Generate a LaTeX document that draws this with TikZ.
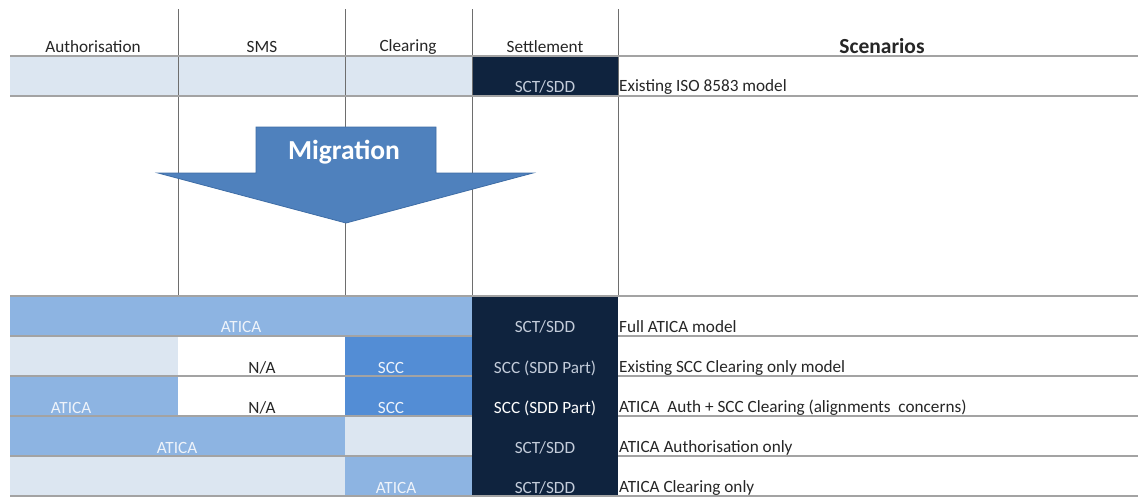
\documentclass[tikz,border=0pt]{standalone}
\usepackage{fontspec}
\setmainfont{Carlito}
\definecolor{paleblue}{HTML}{DCE6F1}
\definecolor{aticablue}{HTML}{8DB4E2}
\definecolor{sccblue}{HTML}{538DD5}
\definecolor{navy}{HTML}{0F233E}
\definecolor{arrowblue}{HTML}{4F81BD}
\definecolor{arrowedge}{HTML}{3E6DA6}
\definecolor{rulegray}{HTML}{A3A3A3}
\definecolor{gridgray}{HTML}{6E6E6E}
\definecolor{navytext}{HTML}{C3CCDA}
\definecolor{lighttext}{HTML}{EEF3FA}
\definecolor{bodytext}{HTML}{262626}
\tikzset{
  cell/.style={inner sep=0pt, anchor=center, font=\fontsize{17.2}{19}\selectfont},
  headtext/.style={cell, text=bodytext},
  darktext/.style={cell, text=navytext},
  whitetext/.style={cell, text=lighttext},
  plaintext/.style={cell, text=bodytext},
  scenario/.style={cell, anchor=west, text=bodytext},
  rowrule/.style={draw=rulegray, line width=1.8pt},
  colrule/.style={draw=gridgray, line width=0.9pt},
  migarrow/.style={fill=arrowblue, draw=arrowedge, line width=0.8pt, line join=miter}
}
\begin{document}
\begin{tikzpicture}[x=1pt,y=-1pt]
\useasboundingbox (0,0) rectangle (1138,498);
\fill[white] (0,0) rectangle (1138,498);

% existing model row
\fill[paleblue] (10,56) rectangle (472,96);
\fill[navy] (472,56) rectangle (618,96);

% target scenarios
\fill[aticablue] (10,296) rectangle (472,336);
\fill[paleblue] (10,336) rectangle (178,376);
\fill[sccblue] (345,336) rectangle (472,376);
\fill[aticablue] (10,376) rectangle (178,416);
\fill[sccblue] (345,376) rectangle (472,416);
\fill[aticablue] (10,416) rectangle (345,456);
\fill[paleblue] (345,416) rectangle (472,456);
\fill[paleblue] (10,456) rectangle (345,496);
\fill[aticablue] (345,456) rectangle (472,496);
\fill[navy] (472,296) rectangle (618,496);

% column rules
\foreach \cx in {178,345,472,618}
  \draw[colrule] (\cx,9) -- (\cx,296);

% row rules
\foreach \ry in {56,96,296}
  \draw[rowrule] (10,\ry) -- (1138,\ry);
\foreach \ry in {336,376,416,456}{
  \draw[rowrule] (10,\ry) -- (472,\ry);
  \draw[rowrule] (618,\ry) -- (1138,\ry);
}
\draw[rowrule] (10,496) -- (1138,496);

% migration arrow
\draw[migarrow] (256,127) -- (436,127) -- (436,173) -- (533,173)
  -- (346,223) -- (158,173) -- (256,173) -- cycle;
\node[text=white, font=\fontsize{27.5}{30}\selectfont\bfseries] (mig) at (344,152) {Migration};

% headers
\node[headtext] (hauth) at (93,47) {Authorisation};
\node[headtext] (hsms) at (262,47) {SMS};
\node[headtext] (hclr) at (408,47) {Clearing};
\node[headtext] (hset) at (545,47) {Settlement};
\node[headtext, font=\fontsize{21.5}{24}\selectfont\bfseries] (hscen) at (882,46) {Scenarios};

% row: existing
\node[darktext] (s0) at (545,87) {SCT/SDD};
\node[scenario] (d0) at (619,87) {Existing ISO 8583 model};

% row: full ATICA
\node[whitetext] (a1) at (241,327) {ATICA};
\node[darktext] (s1) at (545,327) {SCT/SDD};
\node[scenario] (d1) at (619,327) {Full ATICA model};

% row: SCC clearing only
\node[plaintext] (n2) at (262,368) {N/A};
\node[whitetext] (c2) at (391,368) {SCC};
\node[darktext] (s2) at (545,368) {SCC (SDD Part)};
\node[scenario] (d2) at (619,368) {Existing SCC Clearing only model};

% row: ATICA auth + SCC clearing
\node[whitetext] (a3) at (71,408) {ATICA};
\node[plaintext] (n3) at (262,408) {N/A};
\node[whitetext] (c3) at (391,408) {SCC};
\node[cell, text=white] (s3) at (545,408) {SCC (SDD Part)};
\node[scenario] (d3) at (619,408) {ATICA\ \ Auth + SCC Clearing (alignments\ \ concerns)};

% row: ATICA authorisation only
\node[whitetext] (a4) at (177,448) {ATICA};
\node[darktext] (s4) at (545,448) {SCT/SDD};
\node[scenario] (d4) at (619,448) {ATICA Authorisation only};

% row: ATICA clearing only
\node[whitetext] (a5) at (396,488) {ATICA};
\node[darktext] (s5) at (545,488) {SCT/SDD};
\node[scenario] (d5) at (619,488) {ATICA Clearing only};
\end{tikzpicture}
\end{document}
